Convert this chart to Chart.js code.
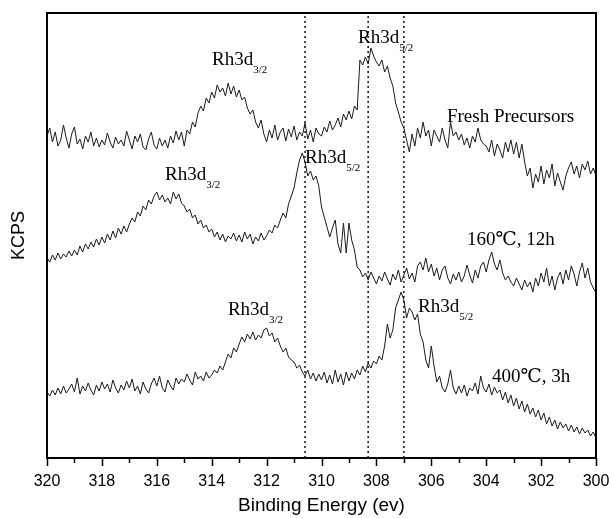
<!DOCTYPE html>
<html>
<head>
<meta charset="utf-8">
<script src="https://cdn.jsdelivr.net/npm/chart.js@4.4.0/dist/chart.umd.min.js"></script>
<style>
  html, body { margin: 0; padding: 0; background: #fff; }
  #wrap { width: 609px; height: 518px; }
</style>
</head>
<body>
<div id="wrap"><canvas id="xps"></canvas></div>
<script>
// binding energy grid (eV), 320 -> 300, 0.1 eV per channel
var eStart = 320;
var eStep = 0.1;

// intensity, arbitrary KCPS units (curves are offset vertically)
var fresh = [
  322, 330, 316, 326, 312, 318, 333, 320, 310, 324,
  331, 314, 319, 309, 322, 316, 326, 312, 320, 311,
  318, 313, 325, 316, 310, 321, 314, 318, 312, 327,
  318, 309, 322, 316, 324, 311, 308, 319, 326, 313,
  309, 320, 312, 318, 310, 322, 315, 327, 318, 326,
  312, 328, 324, 336, 331, 345, 352, 347, 360, 355,
  366, 360, 373, 366, 370, 362, 375, 364, 372, 361,
  368, 358, 361, 350, 344, 348, 336, 330, 338, 324,
  316, 328, 320, 333, 318, 326, 330, 317, 329, 321,
  332, 318, 326, 322, 335, 319, 328, 316, 330, 324,
  322, 331, 326, 337, 328, 333, 340, 331, 344, 338,
  347, 339, 352, 348, 398, 393, 401, 394, 410, 402,
  396, 392, 398, 386, 392, 380, 372, 355, 346, 336,
  330, 318, 306, 324, 312, 330, 320, 336, 322, 328,
  312, 328, 322, 316, 330, 318, 310, 336, 322, 326,
  318, 324, 313, 320, 310, 322, 316, 330, 318, 314,
  312, 306, 318, 302, 314, 308, 300, 316, 306, 318,
  304, 316, 300, 314, 296, 282, 290, 270, 284, 276,
  292, 274, 288, 280, 294, 272, 285, 276, 268, 282,
  290, 296, 284, 292, 280, 294, 288, 297, 284, 290, 282
];

var t160 = [
  200, 196, 203, 198, 205, 199, 204, 201, 207, 202,
  208, 203, 212, 206, 214, 209, 216, 211, 219, 213,
  221, 215, 224, 218, 227, 220, 230, 224, 232, 226,
  234, 240, 236, 246, 242, 252, 248, 258, 254, 262,
  266, 258, 263, 256, 260, 254, 266, 259, 264, 255,
  252, 246, 249, 240, 243, 234, 238, 230, 233, 226,
  229, 221, 226, 218, 224, 216, 222, 219, 225, 217,
  223, 216, 226, 219, 224, 214, 221, 217, 225, 218,
  222, 228, 225, 233, 230, 238, 245, 240, 254, 262,
  270, 285, 298, 305, 296, 282, 287, 278, 282, 272,
  251, 241, 231, 221, 230, 238, 214, 205, 235, 205,
  235, 218, 208, 191, 188, 181, 185, 178, 186, 180,
  174, 182, 177, 186, 179, 173, 184, 178, 188, 176,
  183, 190, 179, 185, 176, 192, 196, 188, 200, 186,
  194, 182, 190, 178, 188, 192, 180, 174, 184, 178,
  186, 176, 182, 193, 183, 175, 188, 180, 192, 196,
  186, 198, 206, 194, 188, 198, 185, 178, 182, 176,
  172, 180, 174, 168, 178, 171, 176, 166, 180, 172,
  185, 176, 190, 172, 182, 168, 180, 186, 174, 188,
  178, 192, 184, 172, 186, 195, 180, 190, 176, 170, 165
];

var t400 = [
  66, 62, 68, 63, 70, 64, 72, 65, 69, 74,
  66, 80, 64, 72, 67, 75, 68, 63, 73, 67,
  76, 69, 74, 66, 78, 70, 65, 73, 68, 77,
  70, 79, 67, 72, 64, 76, 69, 65, 74, 80,
  72, 82, 70, 66, 78, 72, 68, 80, 74, 79,
  76, 84, 78, 73, 86, 79, 82, 77, 86, 80,
  83, 88, 85, 92, 88, 96, 104, 100, 110, 106,
  114, 121, 116, 124, 119, 126, 118, 123, 120, 128,
  130, 122, 125, 116, 120, 112, 106, 110, 101, 98,
  96, 90, 93, 86, 82, 88, 79, 85, 77, 84,
  78, 86, 75, 83, 74, 88, 76, 84, 73, 86,
  77, 85, 79, 88, 83, 92, 86, 95, 90, 97,
  94, 102, 98, 112, 134, 120, 128, 150, 158, 166,
  158, 140, 150, 146, 138, 144, 124, 116, 98, 90,
  112, 92, 76, 82, 70, 66, 74, 88, 70, 64,
  72, 65, 73, 62, 70, 67, 75, 64, 82, 70,
  66, 74, 63, 71, 65, 68, 58, 66, 55, 63,
  52, 60, 49, 57, 46, 54, 44, 50, 41, 48,
  38, 45, 34, 41, 32, 38, 29, 36, 30, 34,
  27, 33, 26, 31, 24, 30, 25, 28, 22, 26, 20
];

// reference positions of the Rh 3d peaks (eV)
var refLines = [310.6, 308.3, 307.0];

var xTicks = [320, 318, 316, 314, 312, 310, 308, 306, 304, 302, 300];

function toPoints(arr) {
    var pts = [];
    for (var i = 0; i < arr.length; i++) {
        pts.push({ x: Math.round((eStart - i * eStep) * 10) / 10, y: arr[i] });
    }
    return pts;
}

var datasets = [fresh, t160, t400].map(function (s) {
    return {
        data: toPoints(s),
        borderColor: '#1a1a1a',
        borderWidth: 1,
        pointRadius: 0,
        tension: 0,
        fill: false
    };
});

refLines.forEach(function (e) {
    datasets.push({
        data: [{ x: e, y: 0 }, { x: e, y: 445 }],
        borderColor: '#222',
        borderWidth: 1.6,
        borderDash: [2, 3],
        pointRadius: 0,
        fill: false
    });
});

var peakLabels = [
    { text: 'Rh3d', sub: '3/2', e: 313.99, c: 393 },
    { text: 'Rh3d', sub: '5/2', e: 308.67, c: 415 },
    { text: 'Rh3d', sub: '3/2', e: 315.70, c: 278 },
    { text: 'Rh3d', sub: '5/2', e: 310.60, c: 295 },
    { text: 'Rh3d', sub: '3/2', e: 313.41, c: 143 },
    { text: 'Rh3d', sub: '5/2', e: 306.48, c: 146 }
];
var sampleLabels = [
    { text: 'Fresh Precursors', e: 305.43, c: 336 },
    { text: '160\u2103, 12h', e: 304.70, c: 213 },
    { text: '400\u2103, 3h', e: 303.79, c: 76 }
];

var decorate = {
    id: 'decorate',
    afterDatasetsDraw: function (chart) {
        var ctx = chart.ctx, a = chart.chartArea;
        var x = chart.scales.x, y = chart.scales.y;
        ctx.save();
        ctx.strokeStyle = '#000';
        ctx.lineWidth = 1.5;
        x.ticks.forEach(function (t) {
            var px = Math.round(x.getPixelForValue(t.value)) + 0.5;
            var len = t.value % 2 === 0 ? 8 : 5;
            ctx.beginPath();
            ctx.moveTo(px, a.bottom);
            ctx.lineTo(px, a.bottom + len);
            ctx.stroke();
        });
        ctx.lineWidth = 2;
        ctx.strokeRect(a.left, a.top, a.right - a.left, a.bottom - a.top);

        ctx.fillStyle = '#000';
        ctx.textBaseline = 'alphabetic';
        ctx.textAlign = 'left';
        peakLabels.forEach(function (l) {
            var px = x.getPixelForValue(l.e), py = y.getPixelForValue(l.c);
            ctx.font = '19px "Liberation Serif", "Times New Roman", serif';
            ctx.fillText(l.text, px, py);
            var w = ctx.measureText(l.text).width;
            ctx.font = '11px "Liberation Serif", "Times New Roman", serif';
            ctx.fillText(l.sub, px + w, py + 8);
        });
        ctx.font = '19px "Liberation Serif", "DejaVu Serif", "Noto Sans CJK SC", serif';
        sampleLabels.forEach(function (l) {
            ctx.fillText(l.text, x.getPixelForValue(l.e), y.getPixelForValue(l.c));
        });
        ctx.restore();
    }
};

new Chart('xps', {
    type: 'line',
    data: { datasets: datasets },
    options: {
        responsive: true,
        maintainAspectRatio: false,
        animation: false,
        events: [],
        layout: { padding: { top: 13, right: 13, left: 0, bottom: 0 } },
        plugins: { legend: { display: false }, tooltip: { enabled: false } },
        scales: {
            x: {
                type: 'linear',
                reverse: true,
                min: 300,
                max: 320,
                afterFit: function (s) { s.height = 60; },
                afterBuildTicks: function (s) {
                    var t = [];
                    for (var v = 300; v <= 320; v++) t.push({ value: v });
                    s.ticks = t;
                },
                ticks: {
                    autoSkip: false,
                    maxRotation: 0,
                    padding: 6,
                    color: '#000',
                    font: { family: '"Liberation Sans", Arial, sans-serif', size: 16 },
                    callback: function (v) { return xTicks.indexOf(v) >= 0 ? String(v) : ''; }
                },
                grid: { drawOnChartArea: false, drawTicks: true, tickLength: 8, color: 'rgba(0,0,0,0)' },
                border: { display: false },
                title: {
                    display: true,
                    text: 'Binding Energy (ev)',
                    color: '#000',
                    font: { family: '"Liberation Sans", Arial, sans-serif', size: 19 },
                    padding: { top: 0, bottom: 1 }
                }
            },
            y: {
                min: 0,
                max: 445,
                afterFit: function (s) { s.width = 47; },
                ticks: { display: false },
                grid: { display: false },
                border: { display: false },
                title: {
                    display: true,
                    text: 'KCPS',
                    color: '#000',
                    font: { family: '"Liberation Sans", Arial, sans-serif', size: 18 },
                    padding: { top: 8, bottom: 0 }
                }
            }
        }
    },
    plugins: [decorate]
});
</script>
</body>
</html>
